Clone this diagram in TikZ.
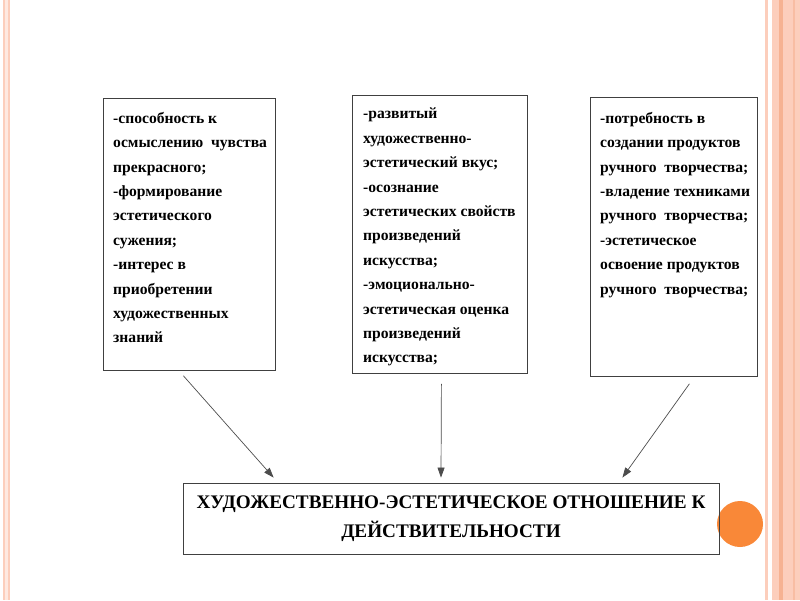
\documentclass[tikz,border=0pt]{standalone}
\usepackage{fontspec}
\setmainfont{Liberation Serif}
\usetikzlibrary{arrows.meta}

\definecolor{framepink}{RGB}{252,206,188}
\definecolor{framedeep}{RGB}{246,178,146}
\definecolor{dotorange}{RGB}{249,136,56}

\tikzset{
  infobox/.style={draw=black!75, line width=0.8pt, inner sep=0pt, anchor=north west},
  infotext/.style={anchor=north west, align=left, inner sep=0pt,
    font=\bfseries\fontsize{15.6}{24.4}\selectfont},
  goalbox/.style={draw=black!75, line width=0.8pt, minimum width=536pt, minimum height=71pt,
    align=center, font=\bfseries\fontsize{19.2}{28.5}\selectfont},
  link/.style={draw=black!70, line width=0.7pt, -{Triangle[length=10pt,width=7pt]}}
}

\begin{document}
\begin{tikzpicture}[x=1pt,y=-1pt]
\useasboundingbox (0,0) rectangle (800,600);
% slide frame
\fill[framepink] (3,0) rectangle (10,600);
\fill[white!55!framepink] (5,0) rectangle (8,600);
\fill[framepink] (765,0) rectangle (768,600);
\fill[framepink] (772,0) rectangle (800,600);
\fill[framedeep] (779,0) rectangle (783,600);
\fill[framedeep!60!framepink] (793,0) rectangle (795,600);
\fill[dotorange] (740,524) circle (23);
% boxes
\node[infobox, minimum width=172pt, minimum height=272pt] (boxA) at (103,98) {};
\node[infobox, minimum width=175pt, minimum height=278pt] (boxB) at (352,95) {};
\node[infobox, minimum width=167pt, minimum height=279pt] (boxC) at (590,97) {};
\node[goalbox] (goal) at (451,518.5) {ХУДОЖЕСТВЕННО-ЭСТЕТИЧЕСКОЕ ОТНОШЕНИЕ К\\ДЕЙСТВИТЕЛЬНОСТИ};
% texts
\node[infotext] (textA) at ([xshift=10pt,yshift=-14pt]boxA.north west)
  {-способность к\\осмыслению\ \ чувства\\прекрасного;\\-формирование\\эстетического\\сужения;\\-интерес в\\приобретении\\художественных\\знаний};
\node[infotext] (textB) at ([xshift=11pt,yshift=-13pt]boxB.north west)
  {-развитый\\художественно-\\эстетический вкус;\\-осознание\\эстетических свойств\\произведений\\искусства;\\-эмоционально-\\эстетическая оценка\\произведений\\искусства;};
\node[infotext] (textC) at ([xshift=10pt,yshift=-15pt]boxC.north west)
  {-потребность в\\создании продуктов\\ручного\ \ творчества;\\-владение техниками\\ручного\ \ творчества;\\-эстетическое\\освоение продуктов\\ручного\ \ творчества;};
% arrows
\draw[link] ([xshift=-6pt,yshift=-5pt]boxA.south) -- ([xshift=91pt,yshift=5pt]goal.north west);
\draw[link] ([xshift=1.5pt,yshift=-10pt]boxB.south) -- ([xshift=-10pt,yshift=5pt]goal.north);
\draw[link] ([xshift=15.5pt,yshift=-7pt]boxC.south) -- ([xshift=-97pt,yshift=5pt]goal.north east);
\end{tikzpicture}
\end{document}
